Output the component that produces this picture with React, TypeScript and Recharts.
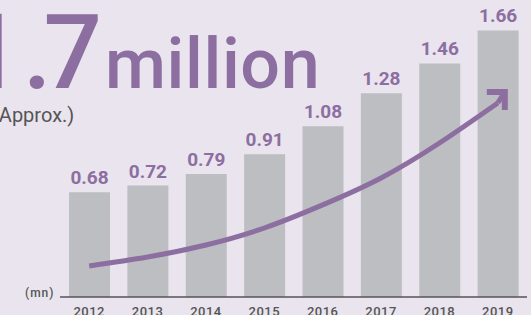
import { Bar, ComposedChart, LabelList, Line, XAxis, YAxis } from 'recharts';

const years = ['2012', '2013', '2014', '2015', '2016', '2017', '2018', '2019'];
const users = [0.68, 0.72, 0.79, 0.91, 1.08, 1.28, 1.46, 1.66];
// trend arrow height at each year
const trend = [0.233, 0.287, 0.36, 0.463, 0.603, 0.766, 0.978, 1.221];

const data = years.map((year, i) => ({ year, users: users[i], trend: trend[i] }));

const PURPLE = '#8c6fa0';
const BAR = '#bdbec1';
const BG = '#e9e4ee';
const INK = '#555555';
const FONT = 'Roboto, "DejaVu Sans", sans-serif';

function ArrowHead(props: any) {
  const { cx, cy, index } = props;
  if (index !== years.length - 1 || cx == null) return <g key={`d${index}`} />;
  const tx = cx + 7;
  const ty = cy - 11;
  return (
    <g key={`d${index}`}>
      <path d={`M${cx},${cy} L${tx},${ty}`} stroke={PURPLE} strokeWidth={5} fill="none" />
      <path
        d={`M${tx - 18},${ty} L${tx},${ty} L${tx},${ty + 18}`}
        stroke={PURPLE}
        strokeWidth={6}
        fill="none"
        strokeLinejoin="miter"
      />
    </g>
  );
}

export default function App() {
  return (
    <div
      style={{
        position: 'absolute',
        left: 0,
        top: 0,
        width: 531,
        height: 315,
        background: BG,
        overflow: 'hidden',
        fontFamily: FONT,
      }}
    >
      <svg width={531} height={315} style={{ position: 'absolute', left: 0, top: 0 }}>
        <text x={-37} y={88} fontSize={103} fontWeight={500} fill={PURPLE}>
          1
        </text>
        <text x={23} y={88} fontSize={103} fontWeight={500} fill={PURPLE}>
          .
        </text>
        <text x={102} y={88} textAnchor="end" fontSize={103} fontWeight={500} fill={PURPLE}>
          7
        </text>
        <text x={105} y={88} fontSize={70} fontWeight={500} fill={PURPLE} letterSpacing={0.6}>
          million
        </text>
        <text x={-8} y={122} fontSize={20} fill={INK}>
          (Approx.)
        </text>
        <text x={25} y={297} fontSize={12} fontWeight={500} fill={INK} letterSpacing={1}>
          (mn)
        </text>
      </svg>
      <div style={{ position: 'absolute', left: 0, top: 0 }}>
        <ComposedChart
          width={531}
          height={315}
          data={data}
          margin={{ top: 10, right: 4, bottom: 0, left: 60 }}
        >
          <XAxis
            dataKey="year"
            height={18}
            tickLine={false}
            tickMargin={4}
            axisLine={{ stroke: INK, strokeWidth: 1.5 }}
            tick={{ fill: INK, fontSize: 13, fontWeight: 500, fontFamily: FONT, letterSpacing: 0.5 }}
          />
          <YAxis hide domain={[0.045, 1.784]} allowDataOverflow />
          <Bar dataKey="users" fill={BAR} barSize={41} isAnimationActive={false}>
            <LabelList
              dataKey="users"
              position="top"
              offset={8}
              fill={PURPLE}
              fontSize={19}
              fontWeight={700}
              fontFamily={FONT}
              formatter={(v: any) => Number(v).toFixed(2)}
            />
          </Bar>
          <Line
            dataKey="trend"
            type="natural"
            stroke={PURPLE}
            strokeWidth={5}
            dot={ArrowHead}
            activeDot={false}
            isAnimationActive={false}
          />
        </ComposedChart>
      </div>
    </div>
  );
}
